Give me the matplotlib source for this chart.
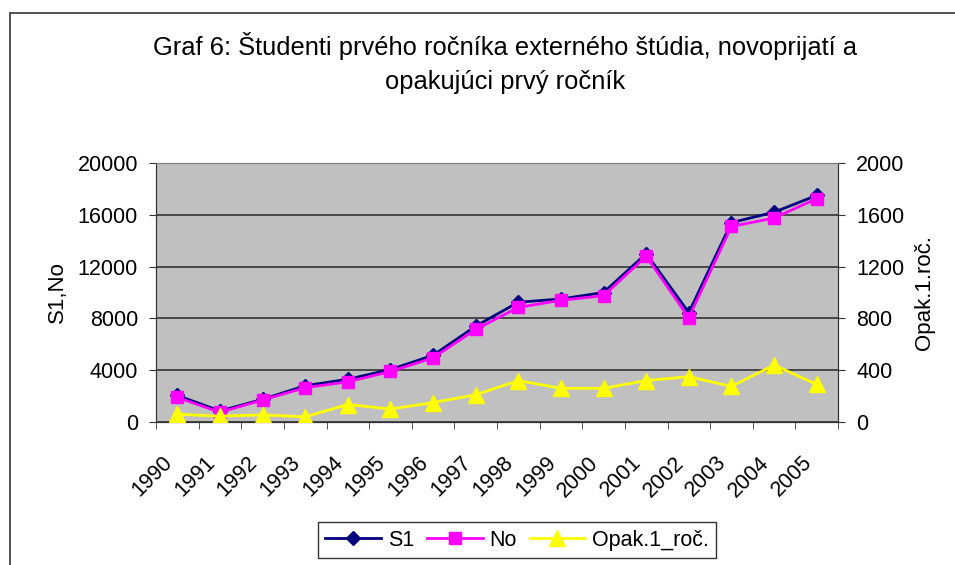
import matplotlib
matplotlib.use("Agg")
import matplotlib.pyplot as plt
import matplotlib.transforms as mtransforms
from matplotlib.patches import Rectangle

plt.rcParams['font.family'] = ['Liberation Sans', 'DejaVu Sans']

# ---------------------------------------------------------------------------
# data
# ---------------------------------------------------------------------------
years = ["1990", "1991", "1992", "1993", "1994", "1995", "1996", "1997",
         "1998", "1999", "2000", "2001", "2002", "2003", "2004", "2005"]

s1 = [2050, 850, 1750, 2800, 3300, 4050, 5150, 7400,
      9250, 9500, 10000, 13000, 8450, 15400, 16200, 17500]

no = [1900, 750, 1700, 2650, 3100, 3900, 4950, 7150,
      8850, 9400, 9750, 12800, 8050, 15100, 15750, 17250]

opak = [60, 45, 55, 40, 135, 100, 150, 210,
        320, 260, 260, 320, 350, 275, 440, 290]

x = list(range(len(years)))

# ---------------------------------------------------------------------------
# figure
# ---------------------------------------------------------------------------
fig = plt.figure(figsize=(9.55, 5.65), dpi=100)

# outer chart frame (cut off on right and bottom like the original)
fig.patches.append(Rectangle((9.5 / 955, -0.05), 1.0, 1.05 - 13 / 565,
                             transform=fig.transFigure, fill=False,
                             edgecolor="#333333", linewidth=1.2))

ax = fig.add_axes([156 / 955, 1 - 422 / 565, 682 / 955, 259 / 565])
ax.set_facecolor("#C0C0C0")
ax2 = ax.twinx()

ax.plot(x, s1, color="#000080", marker="D", markersize=7, linewidth=2,
        label="S1", zorder=3)
ax.plot(x, no, color="#FF00FF", marker="s", markersize=8.5, linewidth=2,
        label="No", zorder=4)
ax2.plot(x, opak, color="#FFFF00", marker="^", markersize=11, linewidth=2,
         label="Opak.1_roč.", zorder=3)

ax.set_xlim(-0.5, len(years) - 0.5)
ax.set_ylim(0, 20000)
ax2.set_ylim(0, 2000)
ax.set_yticks(range(0, 20001, 4000))
ax2.set_yticks(range(0, 2001, 400))
ax.yaxis.grid(True, color="#333333", linewidth=1.2)
ax.set_axisbelow(True)

for a in (ax, ax2):
    for side in ("top", "bottom", "left", "right"):
        a.spines[side].set_color("#333333")
    a.spines["top"].set_color("#808080")
    a.tick_params(axis="y", labelsize=15.5, length=5, color="#333333", pad=8)

# x ticks: marks at category boundaries, labels shifted left and rotated
ax.set_xticks([i - 0.5 for i in range(len(years) + 1)], minor=True)
ax.set_xticks(x)
ax.set_xticklabels(years, rotation=45, ha="right", va="center",
                   rotation_mode="anchor", fontsize=15.5)
ax.tick_params(axis="x", which="major", length=0, pad=27)
ax.tick_params(axis="x", which="minor", length=5, color="#333333")
shift = mtransforms.ScaledTranslation(-8 / 100, 0, fig.dpi_scale_trans)
for lbl in ax.get_xticklabels():
    lbl.set_transform(lbl.get_transform() + shift)

ax.set_ylabel("S1,No", fontsize=16, labelpad=7)
ax2.set_ylabel("Opak.1.roč.", fontsize=16, labelpad=7)

fig.text(505 / 955, 1 - 46 / 565,
         "Graf 6: Študenti prvého ročníka externého štúdia, novoprijatí a",
         ha="center", va="center", fontsize=18.4)
fig.text(505 / 955, 1 - 82 / 565, "opakujúci prvý ročník",
         ha="center", va="center", fontsize=18.4)

h1, l1 = ax.get_legend_handles_labels()
h2, l2 = ax2.get_legend_handles_labels()
leg = fig.legend(h1 + h2, l1 + l2, loc="upper center",
                 bbox_to_anchor=(517 / 955, 1 - 522 / 565), ncol=3,
                 fontsize=15.5, frameon=True, fancybox=False,
                 handlelength=2.6, handletextpad=0.3, columnspacing=0.6,
                 borderpad=0.35, borderaxespad=0)
leg.get_frame().set_edgecolor("black")
leg.get_frame().set_linewidth(1.0)

fig.savefig("out.png", dpi=100)
